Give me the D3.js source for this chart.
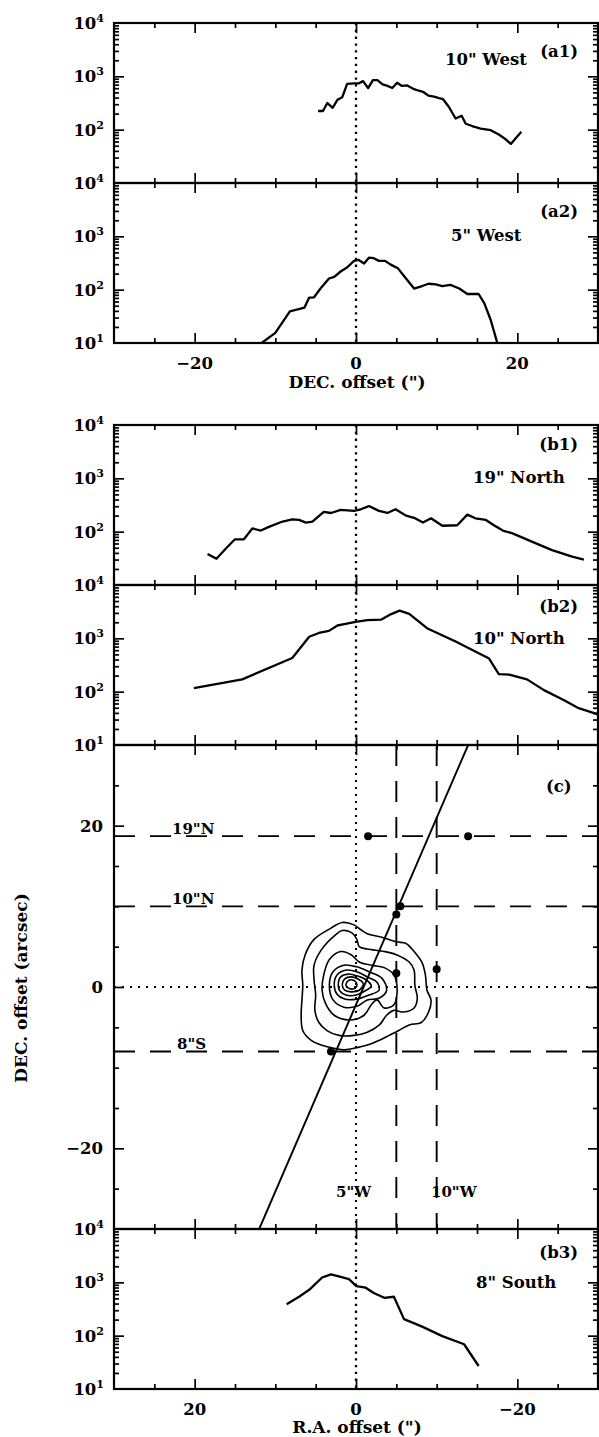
<!DOCTYPE html>
<html>
<head>
<meta charset="utf-8">
<script src="https://d3js.org/d3.v7.min.js"></script>
<style>
  body { margin: 0; background: #fff; }
  text { font-family: "DejaVu Serif", serif; font-weight: bold; fill: #000; }
</style>
</head>
<body>
<svg id="fig" width="599" height="1437"></svg>
<script>
// profiles: [offset (arcsec), intensity]
var a1Profile = [[-4.7,224],[-4.1,224],[-3.55,316],[-2.9,257],[-2.3,363],[-1.7,407],[-1.1,724],[-0.25,741],[0.37,741],[0.87,813],[1.5,603],[2.1,851],[2.65,851],[3.3,708],[3.9,661],[4.5,603],[5.1,759],[5.7,661],[6.35,676],[7.2,575],[7.8,537],[8.3,513],[8.96,437],[9.67,417],[10.3,389],[10.8,372],[11.5,269],[12.35,162],[13.1,182],[13.6,129],[14.4,117],[15.45,105],[16.7,98],[17.7,81],[18.55,66],[19.2,54],[19.8,69],[20.5,91]];
var a2Profile = [[-11.7,10],[-10.0,15.5],[-8.2,39],[-7.1,43],[-6.4,46],[-5.8,71],[-5.2,72],[-4.4,105],[-3.35,162],[-2.7,174],[-1.9,219],[-1.08,263],[-0.25,347],[0.29,363],[1.0,309],[1.6,398],[2.2,389],[2.85,347],[3.6,347],[4.3,295],[5.2,251],[6.2,162],[7.2,105],[8.2,117],[9.0,129],[9.9,126],[10.7,117],[11.7,123],[12.8,105],[13.8,83],[15.2,83],[15.9,56],[16.7,27],[17.5,10.2]];
var b1Profile = [[18.4,38],[17.3,31],[16.1,49],[15.0,72],[13.9,72],[12.85,115],[11.8,105],[10.8,123],[9.1,155],[7.9,170],[7.06,166],[6.2,148],[5.4,155],[4.0,234],[3.1,224],[1.9,257],[0.25,245],[-0.6,263],[-1.6,302],[-2.85,245],[-3.9,224],[-4.9,263],[-6.2,200],[-7.2,182],[-8.3,148],[-9.3,178],[-10.7,129],[-12.55,132],[-13.8,209],[-14.8,178],[-16.1,166],[-17.1,132],[-18.2,105],[-19.4,93],[-21.8,65],[-24.3,45],[-26.8,34],[-28.25,30]];
var b2Profile = [[20.1,117],[14.1,170],[7.9,427],[7.06,617],[5.8,1070],[4.6,1260],[3.35,1380],[2.3,1740],[1.3,1860],[0.04,2040],[-1.4,2190],[-3.1,2240],[-4.3,2820],[-5.4,3310],[-6.6,2880],[-8.8,1550],[-12.35,870],[-16.5,417],[-17.7,214],[-19.0,209],[-21.2,170],[-23.3,107],[-25.8,69],[-27.6,49],[-29.9,38]];
var b3Profile = [[8.6,389],[7.06,537],[5.8,724],[4.2,1230],[3.1,1410],[1.9,1260],[0.87,1150],[-0.04,851],[-1.2,794],[-2.2,631],[-3.5,513],[-4.7,537],[-5.95,204],[-8.2,148],[-10.7,98],[-13.4,69],[-15.2,27]];

// map (c): cut positions, peaks, fitted axis, contours [R.A., DEC.]
var decCuts = [18.7, 10, -8];
var decCutNames = ['19"N', '10"N', '8"S'];
var raCuts = [-5, -10];
var raCutNames = ['5"W', '10"W'];
var peakPoints = [[-1.5,18.7],[-13.9,18.7],[-5.5,10],[-5,9],[-5,1.7],[-10,2.2],[3.1,-8]];
var fitLine = [[12,-30],[-13.9,30]];
var contours = [
  [[6.3,4.0],[5.2,5.9],[3.1,7.3],[1.7,8.0],[0.25,7.7],[-0.6,7.1],[-1.4,6.6],[-3.1,6.2],[-5.0,5.6],[-6.2,5.4],[-7.2,4.4],[-8.2,3.0],[-8.6,1.5],[-8.8,-0.4],[-9.3,-1.6],[-9.0,-3.1],[-8.1,-4.4],[-6.6,-4.7],[-5.3,-5.4],[-4.1,-6.0],[-2.9,-6.6],[-1.4,-7.2],[0.25,-7.6],[1.5,-7.8],[2.7,-7.6],[4.3,-7.2],[5.6,-6.6],[6.6,-5.4],[6.8,-3.5],[6.7,-1.6],[6.6,0.2],[6.7,2.1]],
  [[5.2,2.7],[4.3,4.6],[2.5,6.5],[1.7,7.0],[0.5,6.7],[-0.1,5.9],[-0.4,5.0],[-1.4,4.7],[-3.5,4.4],[-5.0,4.0],[-6.6,3.1],[-7.2,2.1],[-7.3,0.2],[-7.6,-1.4],[-7.2,-2.6],[-5.9,-3.1],[-4.7,-2.9],[-3.8,-3.5],[-2.9,-4.7],[-1.4,-5.6],[0.25,-6.0],[2.1,-6.0],[3.6,-5.4],[4.6,-4.4],[5.1,-2.9],[5.0,-1.0],[5.2,0.9]],
  [[4.0,1.5],[3.3,3.4],[1.9,4.4],[0.6,4.0],[-0.4,3.1],[-1.9,2.7],[-3.5,2.4],[-4.7,1.5],[-5.1,-0.4],[-4.7,-2.2],[-3.5,-2.6],[-2.6,-1.6],[-1.9,-2.2],[-1.0,-3.5],[0.9,-4.1],[2.7,-3.5],[3.8,-2.0],[4.2,-0.4]],
  [[3.3,0.25],[2.85,1.9],[1.5,2.7],[-0.1,2.5],[-1.6,1.9],[-3.2,1.1],[-3.8,-0.4],[-2.85,-1.4],[-1.4,-1.6],[-0.1,-2.4],[1.5,-2.5],[2.85,-1.6]],
  [[2.7,0.25],[2.35,1.5],[1.2,2.1],[-0.1,1.9],[-1.4,1.25],[-2.6,0.6],[-2.85,-0.4],[-1.6,-1.0],[-0.1,-1.5],[1.4,-1.5],[2.35,-0.9]],
  [[2.2,0.25],[1.9,1.25],[1.0,1.6],[-0.1,1.4],[-1.25,0.9],[-1.9,0.1],[-1.1,-0.5],[0,-1.0],[1.25,-1.0],[2.0,-0.5]],
  [[1.7,0.25],[1.4,1.0],[0.6,1.25],[-0.25,1.0],[-0.9,0.4],[-0.4,-0.4],[0.6,-0.6],[1.4,-0.4]],
  [[1.25,0.25],[1.0,0.75],[0.5,0.9],[0,0.6],[-0.1,0.1],[0.4,-0.25],[1.0,-0.1]]
];

var majorX = [-20, 0, 20];
var minorX = [-25, -15, -10, -5, 5, 10, 15, 25];
var logMajor = [100, 1000];
var logMinor = [];
[10, 100, 1000].forEach(function (d) { for (var k = 2; k <= 9; k++) logMinor.push(d * k); });

var svg = d3.select('#fig');
var X0 = 114, X1 = 598, LOG_H = 160, FS = 16.5;
var xDec = d3.scaleLinear().domain([-30, 30]).range([X0, X1]);
var xRA = d3.scaleLinear().domain([30, -30]).range([X0, X1]);

function addAxis(g, axis, tx, ty) {
  g.append('g').attr('transform', 'translate(' + tx + ',' + ty + ')').call(axis)
    .call(function (a) { a.select('.domain').remove(); a.selectAll('text').remove(); })
    .call(function (a) { a.selectAll('line').attr('stroke', '#000').attr('stroke-width', 1.7); });
}

function xTicks(g, x, yTop, yBot) {
  [[majorX, 10], [minorX, 5]].forEach(function (t) {
    addAxis(g, d3.axisBottom(x).tickValues(t[0]).tickSize(t[1]), 0, yTop);
    addAxis(g, d3.axisTop(x).tickValues(t[0]).tickSize(t[1]), 0, yBot);
  });
}

function yTicks(g, y, major, minor) {
  [[major, 10], [minor, 5]].forEach(function (t) {
    addAxis(g, d3.axisRight(y).tickValues(t[0]).tickSize(t[1]), X0, 0);
    addAxis(g, d3.axisLeft(y).tickValues(t[0]).tickSize(t[1]), X1, 0);
  });
}

function frame(g, yTop, yBot) {
  g.append('rect').attr('x', X0).attr('y', yTop).attr('width', X1 - X0).attr('height', yBot - yTop)
    .attr('fill', 'none').attr('stroke', '#000').attr('stroke-width', 2.2);
}

function clip(key, yTop, yBot) {
  svg.append('clipPath').attr('id', 'clip-' + key).append('rect')
    .attr('x', X0).attr('y', yTop).attr('width', X1 - X0).attr('height', yBot - yTop);
  return 'url(#clip-' + key + ')';
}

function fmt(v) { return v < 0 ? '−' + (-v) : String(v); }

function logLabel(g, y, v, exp) {
  var t = g.append('text').attr('x', 104).attr('y', y(v) + 6).attr('text-anchor', 'end').attr('font-size', FS);
  t.append('tspan').text('10');
  t.append('tspan').attr('dy', -7).attr('font-size', 11).text(exp);
}

var logPanels = [
  {key: 'a1', top: 23,   x: xDec, data: a1Profile, tag: '(a1)', tagY: 57,   title: '10" West',  titleX: 445, titleY: 65,   low: false},
  {key: 'a2', top: 183,  x: xDec, data: a2Profile, tag: '(a2)', tagY: 217,  title: '5" West',   titleX: 451, titleY: 241,  low: true},
  {key: 'b1', top: 425,  x: xRA,  data: b1Profile, tag: '(b1)', tagY: 450,  title: '19" North', titleX: 473, titleY: 483,  low: false},
  {key: 'b2', top: 585,  x: xRA,  data: b2Profile, tag: '(b2)', tagY: 612,  title: '10" North', titleX: 473, titleY: 644,  low: true},
  {key: 'b3', top: 1229, x: xRA,  data: b3Profile, tag: '(b3)', tagY: 1258, title: '8" South',  titleX: 476, titleY: 1288, low: true}
];

logPanels.forEach(function (p) {
  var yTop = p.top, yBot = p.top + LOG_H;
  var y = d3.scaleLog().domain([10, 1e4]).range([yBot, yTop]);
  var g = svg.append('g');
  g.append('line').attr('x1', p.x(0)).attr('x2', p.x(0)).attr('y1', yTop).attr('y2', yBot)
    .attr('stroke', '#000').attr('stroke-width', 2.3).attr('stroke-dasharray', '2.3,4.5');
  g.append('path').datum(p.data).attr('clip-path', clip(p.key, yTop, yBot))
    .attr('d', d3.line().x(function (d) { return p.x(d[0]); }).y(function (d) { return y(d[1]); }))
    .attr('fill', 'none').attr('stroke', '#000').attr('stroke-width', 2.3).attr('stroke-linejoin', 'round');
  xTicks(g, p.x, yTop, yBot);
  yTicks(g, y, logMajor, logMinor);
  frame(g, yTop, yBot);
  logLabel(g, y, 1e4, '4'); logLabel(g, y, 1e3, '3'); logLabel(g, y, 100, '2');
  if (p.low) logLabel(g, y, 10, '1');
  g.append('text').attr('x', 578).attr('y', p.tagY).attr('text-anchor', 'end').attr('font-size', FS).text(p.tag);
  g.append('text').attr('x', p.titleX).attr('y', p.titleY).attr('font-size', FS).text(p.title);
});

// x tick labels and titles
majorX.forEach(function (v) {
  svg.append('text').attr('x', xDec(v)).attr('y', 369).attr('text-anchor', 'middle').attr('font-size', FS).text(fmt(v));
  svg.append('text').attr('x', xRA(v)).attr('y', 1415).attr('text-anchor', 'middle').attr('font-size', FS).text(fmt(v));
});
svg.append('text').attr('x', 357).attr('y', 388).attr('text-anchor', 'middle').attr('font-size', 17).text('DEC. offset (")');
svg.append('text').attr('x', 357).attr('y', 1433).attr('text-anchor', 'middle').attr('font-size', 17).text('R.A. offset (")');

// panel (c): map
var C_TOP = 745, C_BOT = 1229;
var yC = d3.scaleLinear().domain([-30, 30]).range([C_BOT, C_TOP]);
var gc = svg.append('g');
var cClip = clip('c', C_TOP, C_BOT);
var mapLine = d3.line().x(function (d) { return xRA(d[0]); }).y(function (d) { return yC(d[1]); });

gc.append('line').attr('x1', xRA(0)).attr('x2', xRA(0)).attr('y1', C_TOP).attr('y2', C_BOT)
  .attr('stroke', '#000').attr('stroke-width', 2).attr('stroke-dasharray', '2,5');
gc.append('line').attr('x1', X0).attr('x2', X1).attr('y1', yC(0)).attr('y2', yC(0))
  .attr('stroke', '#000').attr('stroke-width', 1.8).attr('stroke-dasharray', '2,6');

decCuts.forEach(function (d, i) {
  gc.append('line').attr('x1', X0).attr('x2', X1).attr('y1', yC(d)).attr('y2', yC(d))
    .attr('stroke', '#000').attr('stroke-width', 1.9).attr('stroke-dasharray', '21,15');
  gc.append('text').attr('x', i === 2 ? 177 : 172).attr('y', yC(d) - 2.5).attr('font-size', 15).text(decCutNames[i]);
});
raCuts.forEach(function (r, i) {
  gc.append('line').attr('x1', xRA(r)).attr('x2', xRA(r)).attr('y1', C_TOP).attr('y2', C_BOT)
    .attr('stroke', '#000').attr('stroke-width', 1.9).attr('stroke-dasharray', '21,15');
  gc.append('text').attr('x', i === 0 ? 336 : 431).attr('y', 1197).attr('font-size', 15).text(raCutNames[i]);
});

gc.append('g').attr('clip-path', cClip).selectAll('path.cont').data(contours).enter().append('path')
  .attr('d', d3.line().curve(d3.curveCatmullRomClosed.alpha(0.5))
    .x(function (d) { return xRA(d[0]); }).y(function (d) { return yC(d[1]); }))
  .attr('fill', 'none').attr('stroke', '#000').attr('stroke-width', 1.6);

gc.append('path').datum(fitLine).attr('clip-path', cClip).attr('d', mapLine)
  .attr('fill', 'none').attr('stroke', '#000').attr('stroke-width', 1.9);

gc.selectAll('circle').data(peakPoints).enter().append('circle')
  .attr('cx', function (d) { return xRA(d[0]); }).attr('cy', function (d) { return yC(d[1]); })
  .attr('r', 4).attr('fill', '#000');

xTicks(gc, xRA, C_TOP, C_BOT);
yTicks(gc, yC, [-20, 0, 20], [-25, -15, -10, -5, 5, 10, 15, 25]);
frame(gc, C_TOP, C_BOT);
[-20, 0, 20].forEach(function (v) {
  gc.append('text').attr('x', 103).attr('y', yC(v) + 6).attr('text-anchor', 'end').attr('font-size', FS).text(fmt(v));
});
gc.append('text').attr('x', 546).attr('y', 792).attr('font-size', FS).text('(c)');
svg.append('text').attr('transform', 'translate(27,988) rotate(-90)').attr('text-anchor', 'middle')
  .attr('font-size', 17).text('DEC. offset (arcsec)');
</script>
</body>
</html>
